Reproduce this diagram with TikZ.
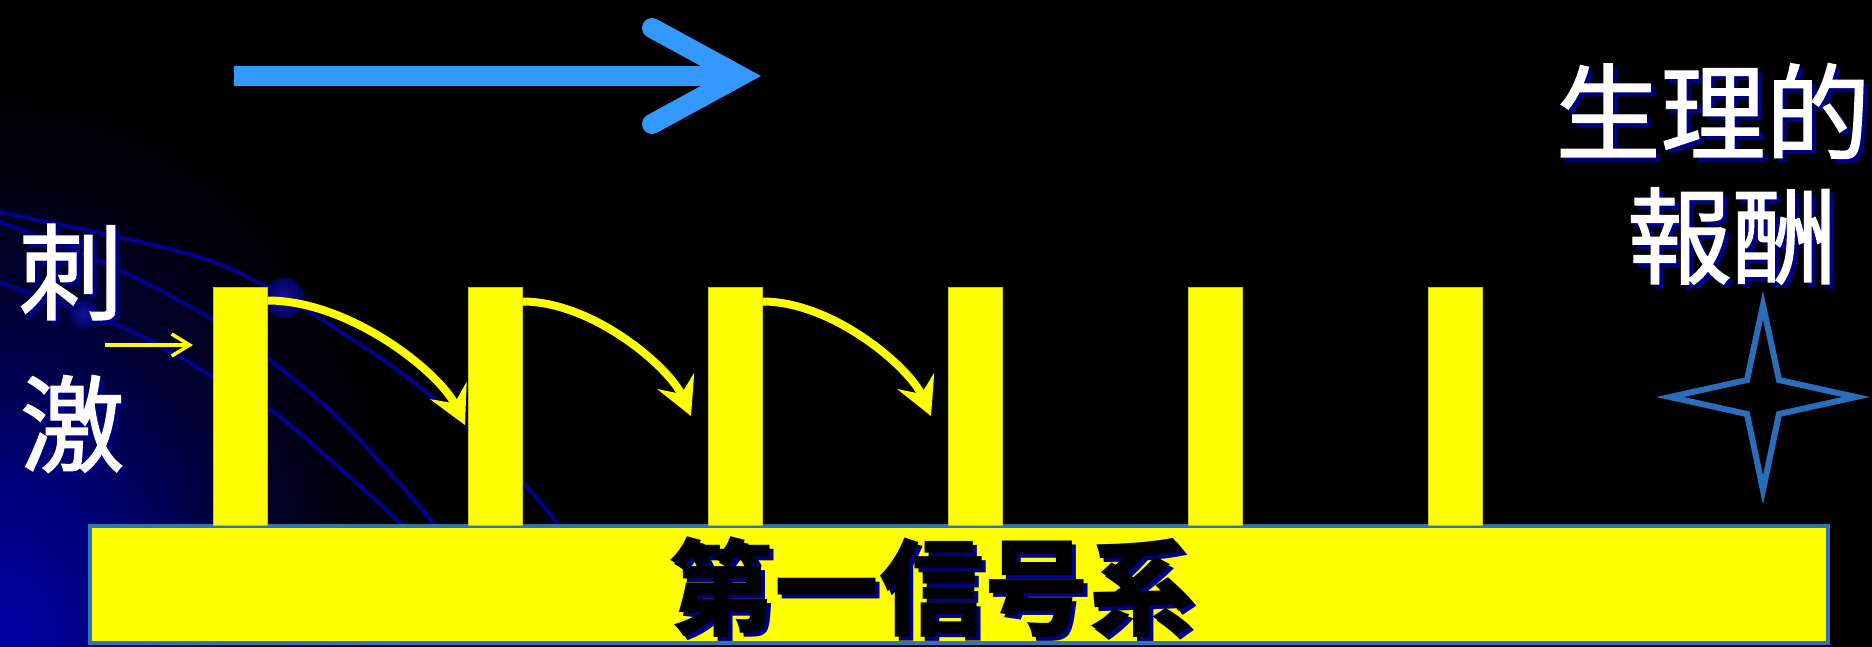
\documentclass[tikz,border=0pt]{standalone}
\usepackage{fontspec}
\newfontfamily\jp{Noto Sans CJK JP}
\newfontfamily\jpw[FakeBold=1.2]{Noto Sans CJK JP}
\usetikzlibrary{arrows.meta,calc}
\definecolor{ybar}{RGB}{255,255,0}
\definecolor{yedge}{RGB}{200,200,0}
\definecolor{arrowblue}{RGB}{51,153,255}
\definecolor{steel}{RGB}{46,117,182}
\definecolor{starblue}{RGB}{42,110,187}
\definecolor{navyline}{RGB}{0,0,140}
\definecolor{shadownavy}{RGB}{0,0,130}
\definecolor{dotin}{RGB}{20,20,150}
\definecolor{dotout}{RGB}{0,0,95}
\definecolor{glowA}{RGB}{0,0,165}
\definecolor{glowB}{RGB}{0,0,125}
\definecolor{glowC}{RGB}{0,0,55}
\definecolor{glowD}{RGB}{0,0,15}
\pgfdeclareradialshading{glow}{\pgfpoint{0bp}{0bp}}{color(0bp)=(glowA); color(7bp)=(glowB); color(15bp)=(glowC); color(21bp)=(glowD); color(25bp)=(black); color(50bp)=(black)}
\tikzset{
  wtxt/.style={font=\jpw\fontsize{105}{110}\selectfont, text=white, inner sep=0pt},
  wsh/.style={font=\jpw\fontsize{105}{110}\selectfont, text=shadownavy, inner sep=0pt},
  btxt/.style={font=\jp\bfseries\fontsize{105}{110}\selectfont, text=black, inner sep=0pt},
  bsh/.style={font=\jp\bfseries\fontsize{105}{110}\selectfont, text=shadownavy, inner sep=0pt},
  barbox/.style={rectangle, fill=ybar, draw=yedge, line width=1pt, inner sep=0pt, minimum width=54pt, minimum height=238pt},
  basebox/.style={fill=ybar, draw=steel, line width=4pt},
  yarrow/.style={draw=ybar, line width=8pt, -{Stealth[length=38pt,width=40pt,inset=14pt]}},
  orbit/.style={draw=navyline, line width=4pt},
  stimarrow/.style={draw=ybar, line width=3.5pt, -{Straight Barb[length=18pt,width=22pt,line width=3.5pt]}},
}
\begin{document}
\begin{tikzpicture}[x=1pt,y=-1pt]
\useasboundingbox (0,0) rectangle (1872,647);
\fill[black] (0,0) rectangle (1872,647);
\begin{scope}
\clip (0,0) rectangle (1872,647);
\shade[shading=glow] (0,647) ellipse [x radius=420, y radius=560];
% orbit lines
\draw[orbit] plot[smooth, tension=0.6] coordinates {(-5,211) (185,253) (267,287) (333,327) (400,372) (467,427) (522,482) (557,523) (590,570)};
\draw[orbit] plot[smooth, tension=0.6] coordinates {(-5,220) (113,267) (213,320) (267,358) (333,413) (390,473) (433,523) (460,560)};
\draw[orbit] plot[smooth, tension=0.6] coordinates {(-5,281) (110,322) (173,353) (213,377) (267,408) (290,425) (353,480) (400,523) (430,560)};
\end{scope}
% dots
\shade[inner color=dotin, outer color=dotout] (84,314) circle (15);
\shade[inner color=dotin, outer color=dotout] (284,298) circle (20);
% base
\draw[basebox] (90,526) rectangle (1828,643);
% bars
\node[barbox] (b1) at (240,406) {};
\node[barbox] (b2) at (495,406) {};
\node[barbox] (b3) at (735,406) {};
\node[barbox] (b4) at (975,406) {};
\node[barbox] (b5) at (1215,406) {};
\node[barbox] (b6) at (1455,406) {};
% yellow arrows
\coordinate (s1) at ($(b1.north east)+(0,14)$);
\coordinate (s2) at ($(b2.north east)+(0,15)$);
\coordinate (s3) at ($(b3.north east)+(0,15)$);
\coordinate (t1) at (465,425);
\coordinate (t2) at (691,416);
\coordinate (t3) at (931,416);
\draw[yarrow] (s1) .. controls +(83,0) and +(-25,-52) .. (t1);
\draw[yarrow] (s2) .. controls +(71,0) and +(-21,-48) .. (t2);
\draw[yarrow] (s3) .. controls +(71,0) and +(-21,-48) .. (t3);
% stimulus arrow
\coordinate (st0) at (105,345);
\coordinate (st1) at (193,345);
\draw[stimarrow] (st0) -- (st1);
% blue arrow
\coordinate (ba0) at (234,76);
\coordinate (ba1) at (735,76);
\coordinate (bc1) at (652,28);
\coordinate (bv) at (740,76);
\coordinate (bc2) at (652,124);
\draw[arrowblue, line width=20pt] (ba0) -- (ba1);
\draw[arrowblue, line width=20pt, line cap=round, line join=miter] (bc1) -- (bv) -- (bc2);
% star
\draw[starblue, line width=6pt, line join=miter] (1763,305) -- (1779,380) -- (1856,397) -- (1779,414) -- (1763,490) -- (1747,414) -- (1670,397) -- (1747,380) -- cycle;
% texts
\node[wsh] at (75,276) {刺};
\node[wtxt] (ci) at (71,272) {刺};
\node[wsh] at (76,428) {激};
\node[wtxt] (ji) at (72,424) {激};
\node[wsh] at (1717,115) {生理的};
\node[wtxt] (sheng) at (1713,111) {生理的};
\node[wsh] at (1736,240) {報酬};
\node[wtxt] (bao) at (1732,236) {報酬};
\node[bsh] at (936,591) {第一信号系};
\node[btxt] (sys) at (932,587) {第一信号系};
\end{tikzpicture}
\end{document}
